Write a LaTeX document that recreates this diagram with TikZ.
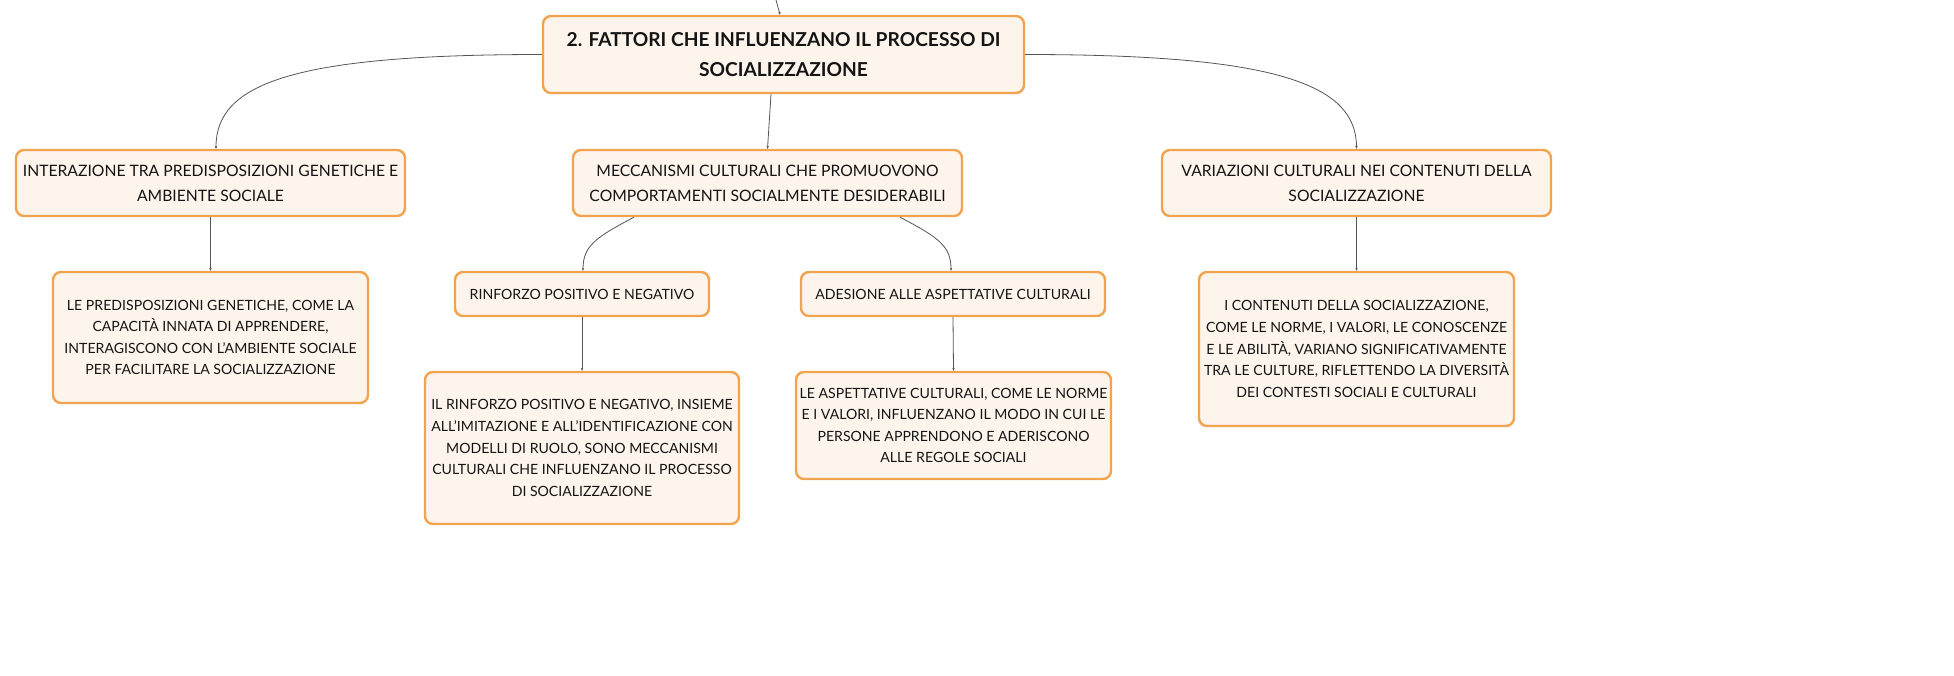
\documentclass[tikz,border=0pt]{standalone}
\usepackage{fontspec}
\setmainfont{Lato}
\usetikzlibrary{arrows.meta,calc}
\definecolor{boxline}{RGB}{242,163,80}
\definecolor{boxfill}{RGB}{253,245,236}
\definecolor{edgecol}{RGB}{85,85,85}
\definecolor{txt}{RGB}{20,20,20}
\begin{document}
\begin{tikzpicture}[x=1pt,y=-1pt,
  box/.style={draw=boxline,fill=boxfill,line width=2.4pt,rounded corners=8pt,
    align=center,text=txt,inner sep=0pt},
  rootbox/.style={box,font={\fontsize{19.2}{30}\selectfont\bfseries}},
  midbox/.style={box,font={\fontsize{15.7}{25}\selectfont}},
  leafbox/.style={box,font={\fontsize{14.1}{21.6}\selectfont}},
  conn/.style={draw=edgecol,line width=0.8pt,-{Stealth[length=3pt,width=2.5pt]}}]
\useasboundingbox (0,0) rectangle (1954,675);
\fill[white] (0,0) rectangle (1954,675);

\node[rootbox,minimum width=481pt,minimum height=77pt] (root) at (783.5,54.5)
  {2. FATTORI CHE INFLUENZANO IL PROCESSO DI\\SOCIALIZZAZIONE};

\node[midbox,minimum width=389pt,minimum height=66pt] (c1) at (210.5,183)
  {INTERAZIONE TRA PREDISPOSIZIONI GENETICHE E\\AMBIENTE SOCIALE};
\node[midbox,minimum width=389pt,minimum height=66pt] (c2) at (767.5,183)
  {MECCANISMI CULTURALI CHE PROMUOVONO\\COMPORTAMENTI SOCIALMENTE DESIDERABILI};
\node[midbox,minimum width=389pt,minimum height=66pt] (c3) at (1356.5,183)
  {VARIAZIONI CULTURALI NEI CONTENUTI DELLA\\SOCIALIZZAZIONE};

\node[leafbox,minimum width=315pt,minimum height=131pt] (g1) at (210.5,337.5)
  {LE PREDISPOSIZIONI GENETICHE, COME LA\\CAPACITÀ INNATA DI APPRENDERE,\\INTERAGISCONO CON L'AMBIENTE SOCIALE\\PER FACILITARE LA SOCIALIZZAZIONE};
\node[leafbox,minimum width=254pt,minimum height=44pt] (r1) at (582,294)
  {RINFORZO POSITIVO E NEGATIVO};
\node[leafbox,minimum width=304pt,minimum height=44pt] (a1) at (953,294)
  {ADESIONE ALLE ASPETTATIVE CULTURALI};
\node[leafbox,minimum width=314pt,minimum height=152pt] (g2) at (582,448)
  {IL RINFORZO POSITIVO E NEGATIVO, INSIEME\\ALL'IMITAZIONE E ALL'IDENTIFICAZIONE CON\\MODELLI DI RUOLO, SONO MECCANISMI\\CULTURALI CHE INFLUENZANO IL PROCESSO\\DI SOCIALIZZAZIONE};
\node[leafbox,minimum width=315pt,minimum height=107pt] (g3) at (953.5,425.5)
  {LE ASPETTATIVE CULTURALI, COME LE NORME\\E I VALORI, INFLUENZANO IL MODO IN CUI LE\\PERSONE APPRENDONO E ADERISCONO\\ALLE REGOLE SOCIALI};
\node[leafbox,minimum width=315pt,minimum height=154pt] (g4) at (1356.5,349)
  {I CONTENUTI DELLA SOCIALIZZAZIONE,\\COME LE NORME, I VALORI, LE CONOSCENZE\\E LE ABILITÀ, VARIANO SIGNIFICATIVAMENTE\\TRA LE CULTURE, RIFLETTENDO LA DIVERSITÀ\\DEI CONTESTI SOCIALI E CULTURALI};

\coordinate (topc) at (776,0);
\draw[conn] (topc) .. controls (778,6) .. ([xshift=-3.5pt]root.north);
\draw[conn] (root.west) .. controls +(-250,0) and +(0,-65) .. ([xshift=5.5pt]c1.north);
\draw[conn] (root.east) .. controls +(250,0) and +(0,-65) .. (c3.north);
\draw[conn] ([xshift=-12.5pt]root.south) -- (c2.north);
\draw[conn] ([xshift=-133.5pt]c2.south) .. controls +(-38,20) and +(0,-25) .. ([xshift=1pt]r1.north);
\draw[conn] ([xshift=132.5pt]c2.south) .. controls +(38,20) and +(0,-25) .. ([xshift=-2pt]a1.north);
\draw[conn] (c1.south) -- (g1.north);
\draw[conn] (r1.south) -- (g2.north);
\draw[conn] (a1.south) -- (g3.north);
\draw[conn] (c3.south) -- (g4.north);
\end{tikzpicture}
\end{document}
